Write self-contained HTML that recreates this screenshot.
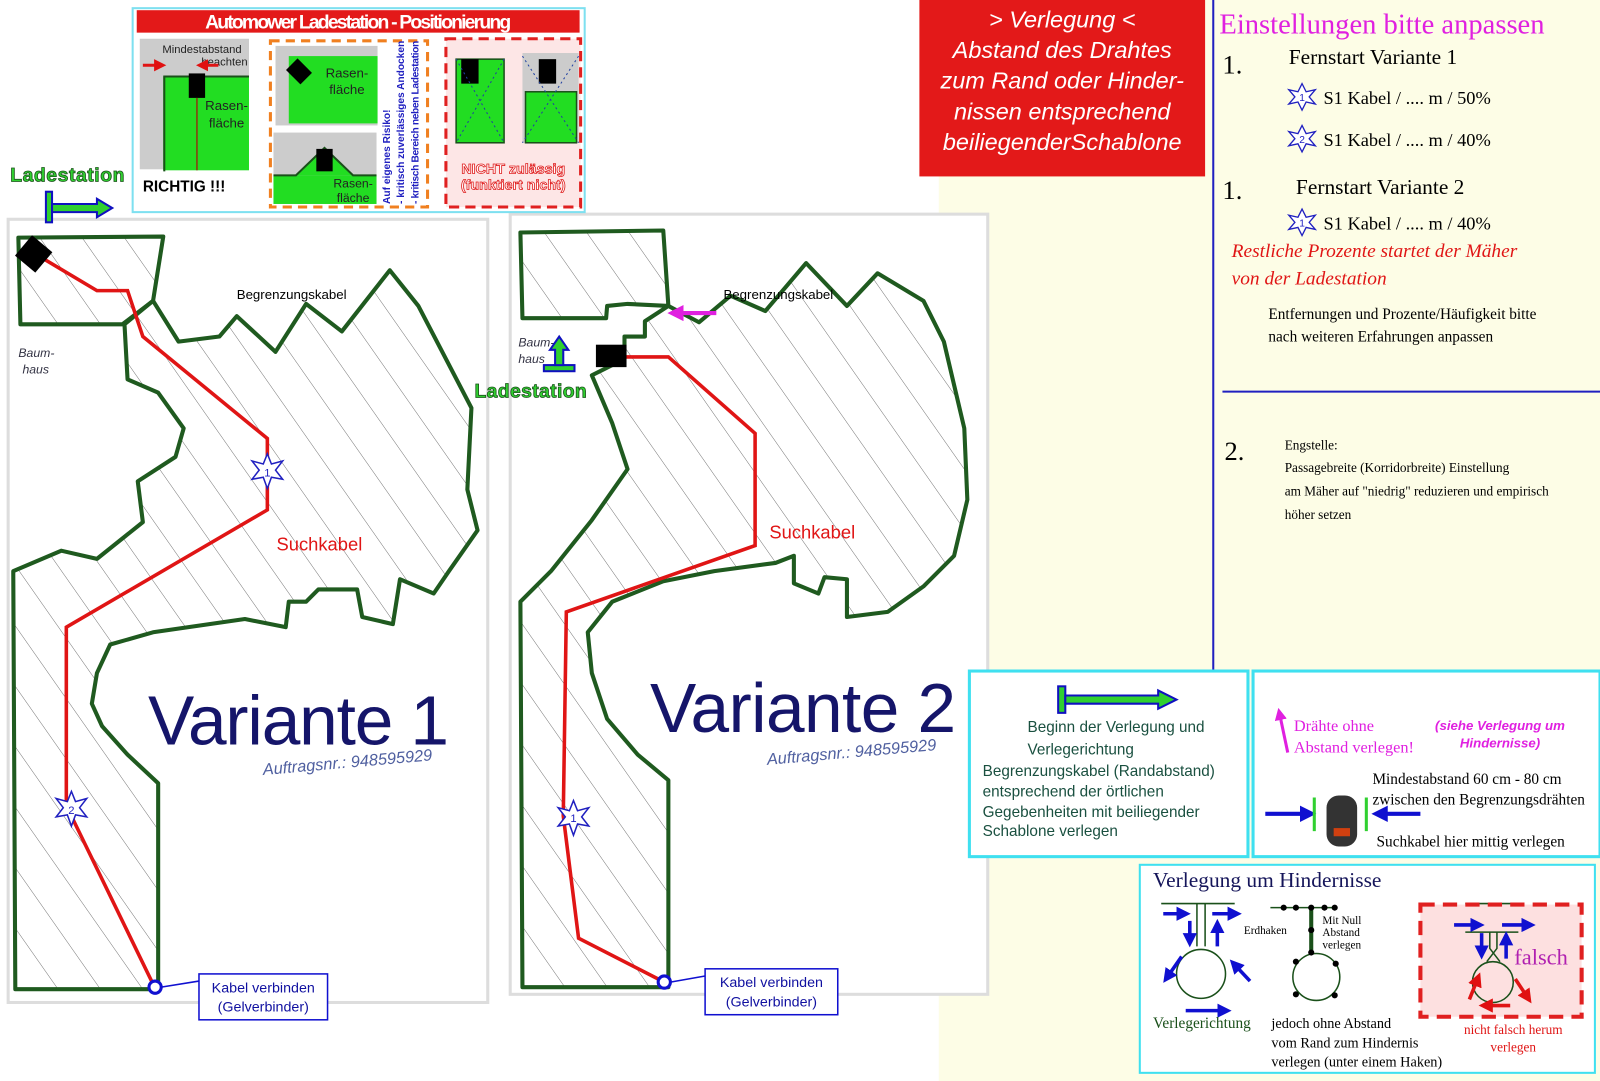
<!DOCTYPE html>
<html><head><meta charset="utf-8"><style>
html,body{margin:0;padding:0;background:#fff;width:1600px;height:1081px;overflow:hidden}
svg{display:block}
text{font-family:"Liberation Sans","DejaVu Sans",sans-serif}
.s{font-family:"Liberation Serif",serif}
</style></head><body>
<svg width="1600" height="1081" viewBox="0 0 1568 1060" preserveAspectRatio="none" xmlns="http://www.w3.org/2000/svg">
<defs>
<pattern id="h" width="34" height="34" patternUnits="userSpaceOnUse" patternTransform="rotate(-35)">
<line x1="0" y1="0" x2="0" y2="34" stroke="#555" stroke-width="0.8"/></pattern>
<marker id="ab" markerWidth="4" markerHeight="4" refX="2" refY="2" orient="auto"><path d="M0,0L4,2L0,4z" fill="#1010d0"/></marker>
<marker id="ar" markerWidth="4" markerHeight="4" refX="2" refY="2" orient="auto"><path d="M0,0L4,2L0,4z" fill="#e01010"/></marker>
<marker id="am" markerWidth="4" markerHeight="4" refX="2" refY="2" orient="auto"><path d="M0,0L4,2L0,4z" fill="#e020e0"/></marker>
</defs>
<rect x="920" y="0" width="648" height="1060" fill="#fdfde6"/>
<rect x="8" y="215" width="470" height="768" fill="#fff" stroke="#ddd" stroke-width="3"/>
<rect x="500" y="210" width="468" height="765" fill="#fff" stroke="#ddd" stroke-width="3"/>

<g stroke="#1f5a1f" stroke-width="4" fill="url(#h)" stroke-linejoin="round">
<path d="M18,233 L160,232 L150,295 L120,318 L20,318 Z"/>
<path d="M122,318 L150,295 L175,335 L215,330 L232,310 L270,345 L300,298 L335,325 L382,265 L410,300 L462,400 L458,480 L468,520 L440,560 L425,582 L392,568 L385,612 L355,605 L350,578 L312,578 L300,590 L283,590 L280,615 L240,607 L150,620 L108,632 L95,660 L90,690 L100,712 L125,740 L155,768 L155,970 L15,970 L13,560 L60,540 L95,548 L140,512 L135,472 L172,448 L180,420 L155,385 L125,372 Z"/>
</g>
<g stroke="#1f5a1f" stroke-width="4" fill="url(#h)" stroke-linejoin="round">
<path d="M510,228 L650,226 L655,300 L615,298 L595,300 L594,312 L512,312 Z"/>
<path d="M655,300 L685,316 L716,290 L750,305 L790,258 L830,300 L860,268 L905,295 L925,335 L945,420 L948,490 L935,545 L905,575 L870,600 L830,605 L830,568 L808,566 L802,582 L778,572 L778,545 L760,552 L700,560 L650,570 L600,590 L576,620 L580,660 L595,705 L625,740 L655,765 L655,968 L512,968 L510,590 L540,560 L580,510 L615,460 L600,415 L580,368 L612,352 L612,330 L632,330 L632,315 Z"/>
</g>
<polyline points="33,248 95,285 125,285 140,330 262,430 262,500 65,615 65,790 150,965" fill="none" stroke="#e01515" stroke-width="3.5"/>
<polyline points="600,350 655,350 740,425 740,535 555,600 552,800 567,920 645,960" fill="none" stroke="#e01515" stroke-width="3.5"/>
<rect x="20" y="236" width="26" height="26" fill="#000" transform="rotate(40 33 249)"/>
<rect x="584" y="338" width="30" height="22" fill="#000"/>
<g fill="#fff" stroke="#2020c0" stroke-width="1.5">
<polygon points="262,445 266,455 277,452 270,461 277,470 266,468 262,479 258,468 247,470 254,461 247,452 258,455"/>
<polygon points="70,776 74,786 85,783 78,792 85,801 74,799 70,810 66,799 55,801 62,792 55,783 66,786"/>
<polygon points="562,785 566,795 577,792 570,801 577,810 566,808 562,819 558,808 547,810 554,801 547,792 558,795"/>
</g>
<text x="262" y="467" font-size="11" fill="#2020c0" text-anchor="middle">1</text>
<text x="70" y="798" font-size="11" fill="#2020c0" text-anchor="middle">2</text>
<text x="562" y="806" font-size="11" fill="#2020c0" text-anchor="middle">1</text>
<circle cx="152" cy="968" r="6" fill="#fff" stroke="#1010d0" stroke-width="3"/>
<circle cx="651" cy="963" r="6" fill="#fff" stroke="#1010d0" stroke-width="3"/>
<line x1="158" y1="968" x2="195" y2="962" stroke="#1010d0" stroke-width="1.5"/>
<line x1="657" y1="963" x2="691" y2="957" stroke="#1010d0" stroke-width="1.5"/>
<rect x="195" y="955" width="126" height="45" fill="#fff" stroke="#1010d0" stroke-width="1.5"/>
<rect x="691" y="950" width="130" height="45" fill="#fff" stroke="#1010d0" stroke-width="1.5"/>
<text x="258" y="973" font-size="14" fill="#1010a0" text-anchor="middle">Kabel verbinden</text>
<text x="258" y="992" font-size="14" fill="#1010a0" text-anchor="middle">(Gelverbinder)</text>
<text x="756" y="968" font-size="14" fill="#1010a0" text-anchor="middle">Kabel verbinden</text>
<text x="756" y="987" font-size="14" fill="#1010a0" text-anchor="middle">(Gelverbinder)</text>
<text x="232" y="293" font-size="13" fill="#000">Begrenzungskabel</text>
<text x="709" y="293" font-size="13" fill="#000">Begrenzungskabel</text>
<text x="271" y="540" font-size="18" fill="#e01515">Suchkabel</text>
<text x="754" y="528" font-size="18" fill="#e01515">Suchkabel</text>
<text x="145" y="730" font-size="68" fill="#15156a" textLength="295">Variante 1</text>
<text x="637" y="718" font-size="68" fill="#15156a" textLength="300">Variante 2</text>
<text x="258" y="760" font-size="16" fill="#5060a0" font-style="italic" transform="rotate(-5 258 760)">Auftragsnr.: 948595929</text>
<text x="752" y="750" font-size="16" fill="#5060a0" font-style="italic" transform="rotate(-5 752 750)">Auftragsnr.: 948595929</text>
<text x="18" y="350" font-size="12" fill="#334" font-style="italic">Baum-</text>
<text x="22" y="366" font-size="12" fill="#334" font-style="italic">haus</text>
<text x="508" y="340" font-size="12" fill="#334" font-style="italic">Baum-</text>
<text x="508" y="356" font-size="12" fill="#334" font-style="italic">haus</text>
<path d="M702,307 L662,307" stroke="#e020e0" stroke-width="4" marker-end="url(#am)"/>
<text x="10" y="178" font-size="19" font-weight="bold" fill="#30d030" stroke="#1a501a" stroke-width="0.8" textLength="112">Ladestation</text>
<text x="465" y="390" font-size="19" font-weight="bold" fill="#30d030" stroke="#1a501a" stroke-width="0.8" textLength="110">Ladestation</text>
<g><rect x="45" y="188" width="6" height="30" fill="#30d030" stroke="#1010c0" stroke-width="2"/>
<path d="M51,200 L95,200 L95,195 L110,204 L95,213 L95,208 L51,208Z" fill="#30d030" stroke="#1010c0" stroke-width="2"/></g>
<g><rect x="533" y="358" width="30" height="6" fill="#30d030" stroke="#1010c0" stroke-width="2"/>
<path d="M544,358 L544,343 L539,343 L548,330 L557,343 L552,343 L552,358Z" fill="#30d030" stroke="#1010c0" stroke-width="2"/></g>

<rect x="130" y="8" width="443" height="200" fill="#fff" stroke="#7ee0f0" stroke-width="2"/>
<rect x="134" y="10" width="434" height="22" fill="#e31919"/>
<text x="351" y="28" font-size="19" font-weight="bold" fill="#fff" text-anchor="middle" textLength="300">Automower Ladestation - Positionierung</text>
<rect x="137" y="38" width="107" height="128" fill="#ccc"/>
<rect x="160" y="75" width="84" height="92" fill="#22dd22"/>
<path d="M161,168 L161,75 L244,75" fill="none" stroke="#1a501a" stroke-width="2"/>
<rect x="185" y="72" width="16" height="24" fill="#000"/>
<line x1="193" y1="96" x2="193" y2="167" stroke="#8b3a10" stroke-width="1.5"/>
<text x="198" y="52" font-size="11" fill="#222" text-anchor="middle">Mindestabstand</text>
<text x="220" y="64" font-size="11" fill="#222" text-anchor="middle">beachten</text>
<text x="222" y="108" font-size="13" fill="#222" text-anchor="middle">Rasen-</text>
<text x="222" y="125" font-size="13" fill="#222" text-anchor="middle">fläche</text>
<path d="M140,64 L157,64" stroke="#e01515" stroke-width="3" marker-end="url(#ar)"/>
<path d="M214,64 L198,64" stroke="#e01515" stroke-width="3" marker-end="url(#ar)"/>
<text x="140" y="188" font-size="15" font-weight="bold" fill="#000">RICHTIG !!!</text>
<rect x="265" y="40" width="154" height="163" fill="none" stroke="#f08020" stroke-width="3" stroke-dasharray="9,6"/>
<rect x="270" y="45" width="100" height="78" fill="#ccc"/>
<rect x="283" y="55" width="87" height="66" fill="#22dd22"/>
<rect x="285" y="60" width="16" height="20" fill="#000" transform="rotate(-45 293 70)"/>
<text x="340" y="76" font-size="13" fill="#222" text-anchor="middle">Rasen-</text>
<text x="340" y="92" font-size="13" fill="#222" text-anchor="middle">fläche</text>
<rect x="268" y="130" width="101" height="70" fill="#ccc"/>
<rect x="268" y="172" width="101" height="28" fill="#22dd22"/>
<path d="M268,172 L290,172 L318,145 L346,172 L369,172" fill="#22dd22" stroke="#1a501a" stroke-width="2"/>
<rect x="310" y="146" width="16" height="22" fill="#000"/>
<text x="346" y="184" font-size="12" fill="#222" text-anchor="middle">Rasen-</text>
<text x="346" y="198" font-size="12" fill="#222" text-anchor="middle">fläche</text>
<text transform="translate(382,200) rotate(-90)" font-size="10" font-weight="bold" fill="#2020c0">Auf eigenes Risiko!</text>
<text transform="translate(396,200) rotate(-90)" font-size="10" font-weight="bold" fill="#2020c0" textLength="160">- kritisch zuverlässiges Andocken</text>
<text transform="translate(410,200) rotate(-90)" font-size="10" font-weight="bold" fill="#2020c0" textLength="160">- kritisch Bereich neben Ladestation</text>
<rect x="437" y="38" width="132" height="165" fill="#fde6e6" stroke="#e02020" stroke-width="3" stroke-dasharray="10,6"/>
<rect x="447" y="58" width="47" height="82" fill="#22dd22" stroke="#1a501a" stroke-width="1.5"/>
<rect x="452" y="58" width="17" height="24" fill="#000"/>
<rect x="512" y="52" width="55" height="88" fill="#ccc"/>
<rect x="515" y="90" width="50" height="50" fill="#22dd22" stroke="#1a501a" stroke-width="1.5"/>
<rect x="528" y="58" width="17" height="24" fill="#000"/>
<path d="M447,58 L494,140 M494,58 L447,140 M512,55 L567,140 M567,55 L512,140" stroke="#2040a0" stroke-dasharray="2,3"/>
<text x="503" y="170" font-size="14" font-weight="bold" fill="#fff" stroke="#e02020" stroke-width="0.8" text-anchor="middle">NICHT zulässig</text>
<text x="503" y="186" font-size="14" font-weight="bold" fill="#fff" stroke="#e02020" stroke-width="0.8" text-anchor="middle">(funktiert nicht)</text>

<rect x="901" y="0" width="280" height="173" fill="#e31919"/>
<g font-size="23" fill="#fff" font-style="italic" text-anchor="middle">
<text x="1041" y="27">&gt; Verlegung &lt;</text>
<text x="1041" y="57">Abstand des Drahtes</text>
<text x="1041" y="87">zum Rand oder Hinder-</text>
<text x="1041" y="117">nissen entsprechend</text>
<text x="1041" y="147">beiliegenderSchablone</text></g>

<line x1="1189" y1="0" x2="1189" y2="660" stroke="#2020c0" stroke-width="2"/>
<line x1="1198" y1="384" x2="1568" y2="384" stroke="#2020c0" stroke-width="2"/>
<text x="1195" y="33" font-size="28" fill="#e020e0" class="s">Einstellungen bitte anpassen</text>
<text x="1198" y="72" font-size="26" class="s">1.</text>
<text x="1263" y="63" font-size="21" class="s">Fernstart Variante 1</text>
<text x="1297" y="102" font-size="18" class="s">S1 Kabel / .... m / 50%</text>
<text x="1297" y="143" font-size="18" class="s">S1 Kabel / .... m / 40%</text>
<text x="1198" y="195" font-size="26" class="s">1.</text>
<text x="1270" y="190" font-size="21" class="s">Fernstart Variante 2</text>
<text x="1297" y="225" font-size="18" class="s">S1 Kabel / .... m / 40%</text>
<text x="1207" y="252" font-size="19" fill="#e01515" font-style="italic" class="s">Restliche Prozente  startet der Mäher</text>
<text x="1207" y="279" font-size="19" fill="#e01515" font-style="italic" class="s">von der Ladestation</text>
<text x="1243" y="313" font-size="15" class="s">Entfernungen und Prozente/Häufigkeit bitte</text>
<text x="1243" y="335" font-size="15" class="s">nach weiteren Erfahrungen anpassen</text>
<text x="1200" y="451" font-size="26" class="s">2.</text>
<text x="1259" y="441" font-size="13" class="s">Engstelle:</text>
<text x="1259" y="463" font-size="13" class="s">Passagebreite (Korridorbreite) Einstellung</text>
<text x="1259" y="486" font-size="13" class="s">am Mäher auf "niedrig" reduzieren und empirisch</text>
<text x="1259" y="509" font-size="13" class="s">höher setzen</text>
<g fill="#fff" stroke="#2020c0" stroke-width="1.3">
<polygon points="1276,82 1280,90 1289,88 1283,95 1289,102 1280,100 1276,108 1272,100 1263,102 1269,95 1263,88 1272,90"/>
<polygon points="1276,123 1280,131 1289,129 1283,136 1289,143 1280,141 1276,149 1272,141 1263,143 1269,136 1263,129 1272,131"/>
<polygon points="1276,205 1280,213 1289,211 1283,218 1289,225 1280,223 1276,231 1272,223 1263,225 1269,218 1263,211 1272,213"/>
</g>
<g font-size="10" fill="#2020c0" text-anchor="middle"><text x="1276" y="99">1</text><text x="1276" y="140">2</text><text x="1276" y="222">1</text></g>

<rect x="950" y="658" width="273" height="182" fill="#fff" stroke="#3fe0f0" stroke-width="3"/>
<rect x="1228" y="658" width="340" height="182" fill="#fff" stroke="#3fe0f0" stroke-width="3"/>
<rect x="1117" y="848" width="446" height="204" fill="#fff" stroke="#3fe0f0" stroke-width="2"/>
<rect x="1037" y="673" width="7" height="26" fill="#30d030" stroke="#1010c0" stroke-width="2"/>
<path d="M1044,682 L1135,682 L1135,677 L1153,686 L1135,695 L1135,690 L1044,690Z" fill="#30d030" stroke="#1010c0" stroke-width="2"/>
<g font-size="15" fill="#1a5040">
<text x="1007" y="718">Beginn der Verlegung und</text>
<text x="1007" y="740">Verlegerichtung</text>
<text x="963" y="761">Begrenzungskabel (Randabstand)</text>
<text x="963" y="781">entsprechend der örtlichen</text>
<text x="963" y="801">Gegebenheiten mit beiliegender</text>
<text x="963" y="820">Schablone verlegen</text></g>
<path d="M1262,738 L1254,700" stroke="#e020e0" stroke-width="3" marker-end="url(#am)"/>
<text x="1268" y="717" font-size="16" fill="#e020e0" class="s">Drähte ohne</text>
<text x="1268" y="738" font-size="16" fill="#e020e0" class="s">Abstand verlegen!</text>
<text x="1470" y="716" font-size="13" fill="#e020e0" font-style="italic" font-weight="bold" text-anchor="middle">(siehe Verlegung um</text>
<text x="1470" y="733" font-size="13" fill="#e020e0" font-style="italic" font-weight="bold" text-anchor="middle">Hindernisse)</text>
<text x="1345" y="769" font-size="15" class="s">Mindestabstand 60 cm - 80 cm</text>
<text x="1345" y="789" font-size="15" class="s">zwischen den Begrenzungsdrähten</text>
<text x="1349" y="830" font-size="15" class="s">Suchkabel hier mittig verlegen</text>
<path d="M1240,798 L1282,798" stroke="#1010d0" stroke-width="4" marker-end="url(#ab)"/>
<path d="M1392,798 L1352,798" stroke="#1010d0" stroke-width="4" marker-end="url(#ab)"/>
<line x1="1288" y1="782" x2="1288" y2="815" stroke="#30d030" stroke-width="3"/>
<line x1="1339" y1="782" x2="1339" y2="815" stroke="#30d030" stroke-width="3"/>
<rect x="1300" y="780" width="30" height="50" rx="12" fill="#333"/>
<rect x="1307" y="812" width="16" height="8" fill="#d04010"/>
<text x="1130" y="870" font-size="21" fill="#15155a" class="s">Verlegung um Hindernisse</text>
<g fill="none" stroke="#1a501a" stroke-width="1.5">
<path d="M1138,886 L1210,886 M1173,886 L1173,928 M1181,886 L1181,928"/>
<circle cx="1177" cy="955" r="24"/>
<path d="M1245,890 L1310,890"/>
<circle cx="1290" cy="958" r="23"/>
<path d="M1436,886 L1488,886 M1460,886 L1460,930 M1467,886 L1467,930"/>
</g>
<line x1="1285" y1="890" x2="1285" y2="934" stroke="#1a501a" stroke-width="4"/>
<g fill="#000"><circle cx="1258" cy="890" r="3"/><circle cx="1270" cy="890" r="3"/><circle cx="1285" cy="890" r="3"/><circle cx="1298" cy="890" r="3"/><circle cx="1308" cy="890" r="3"/><circle cx="1285" cy="912" r="3"/><circle cx="1285" cy="934" r="3"/><circle cx="1270" cy="943" r="3"/><circle cx="1309" cy="945" r="3"/><circle cx="1270" cy="975" r="3"/><circle cx="1308" cy="976" r="3"/></g>
<g font-size="11"><text x="1296" y="906" class="s">Mit Null</text><text x="1296" y="918" class="s">Abstand</text><text x="1296" y="930" class="s">verlegen</text><text x="1219" y="916" class="s">Erdhaken</text></g>
<g stroke="#1010d0" stroke-width="3.5">
<path d="M1140,896 L1160,896" marker-end="url(#ab)"/><path d="M1188,896 L1210,896" marker-end="url(#ab)"/>
<path d="M1166,903 L1166,922" marker-end="url(#ab)"/><path d="M1193,928 L1193,908" marker-end="url(#ab)"/>
<path d="M1158,938 L1144,958" marker-end="url(#ab)"/><path d="M1225,962 L1210,946" marker-end="url(#ab)"/>
<path d="M1162,991 L1200,991" marker-end="url(#ab)"/>
</g>
<text x="1130" y="1008" font-size="15" fill="#1a501a" class="s">Verlegerichtung</text>
<g font-size="14"><text x="1246" y="1008" class="s">jedoch ohne Abstand</text><text x="1246" y="1027" class="s">vom Rand zum Hindernis</text><text x="1246" y="1046" class="s">verlegen (unter einem Haken)</text></g>
<rect x="1392" y="887" width="158" height="110" fill="#fde0e0" stroke="#e02020" stroke-width="4" stroke-dasharray="14,8"/>
<g fill="none" stroke="#1a501a" stroke-width="1.5"><path d="M1436,914 L1488,914 M1460,914 L1460,930 L1470,943 M1467,914 L1467,930 L1457,943"/><circle cx="1463" cy="963" r="20"/></g>
<g stroke="#1010d0" stroke-width="3.5"><path d="M1425,907 L1448,907" marker-end="url(#ab)"/><path d="M1472,907 L1498,907" marker-end="url(#ab)"/><path d="M1452,915 L1452,934" marker-end="url(#ab)"/><path d="M1476,940 L1476,920" marker-end="url(#ab)"/></g>
<g stroke="#e01515" stroke-width="3.5"><path d="M1440,980 L1448,960" marker-end="url(#ar)"/><path d="M1485,960 L1497,978" marker-end="url(#ar)"/><path d="M1480,986 L1456,986" marker-end="url(#ar)"/></g>
<text x="1484" y="946" font-size="22" fill="#b020b0" class="s">falsch</text>
<text x="1483" y="1014" font-size="13" fill="#e01515" text-anchor="middle" class="s">nicht falsch herum</text>
<text x="1483" y="1031" font-size="13" fill="#e01515" text-anchor="middle" class="s">verlegen</text>
</svg>
</body></html>
